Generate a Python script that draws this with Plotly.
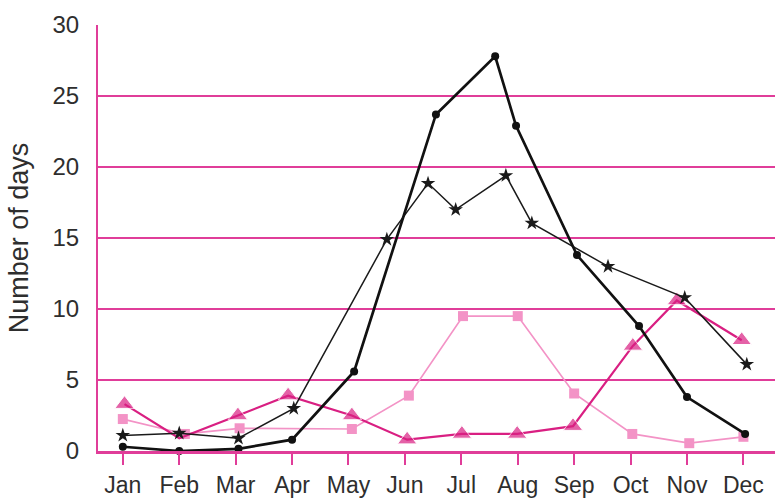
import plotly.graph_objects as go

months = ['Jan', 'Feb', 'Mar', 'Apr', 'May', 'Jun', 'Jul', 'Aug', 'Sep', 'Oct', 'Nov', 'Dec']
month_pos = list(range(1, 13))

# series (x = position in months, Jan = 1)
circ_x = [1.0, 2.0, 3.05, 4.0, 5.1, 6.55, 7.6, 7.97, 9.05, 10.15, 11.0, 12.03]
circ_y = [0.3, 0.0, 0.15, 0.8, 5.6, 23.7, 27.8, 22.9, 13.8, 8.8, 3.8, 1.2]

star_x = [1.0, 2.0, 3.05, 4.03, 5.68, 6.41, 6.9, 7.79, 8.25, 9.6, 10.96, 12.06]
star_y = [1.1, 1.25, 0.9, 3.0, 14.9, 18.85, 17.0, 19.4, 16.05, 13.0, 10.8, 6.1]

sq_x = [1.0, 2.1, 3.07, 5.06, 6.07, 7.03, 8.0, 9.0, 10.03, 11.04, 12.0]
sq_y = [2.25, 1.2, 1.6, 1.55, 3.9, 9.5, 9.5, 4.05, 1.2, 0.55, 1.0]

tri_x = [1.03, 2.0, 3.04, 3.93, 5.06, 6.04, 7.01, 7.99, 8.98, 10.04, 10.82, 11.97]
tri_y = [3.3, 0.9, 2.5, 3.9, 2.5, 0.8, 1.2, 1.2, 1.75, 7.4, 10.6, 7.8]

PINK = '#e03d99'
MAGENTA = '#d91f82'
LIGHT = '#f393c6'
TEXT = '#2e2e2e'

fig = go.Figure()
fig.add_trace(go.Scatter(
    x=sq_x, y=sq_y, mode='lines+markers',
    line=dict(color=LIGHT, width=1.7),
    marker=dict(symbol='square', size=10, color=LIGHT),
    cliponaxis=False,
))
fig.add_trace(go.Scatter(
    x=tri_x, y=tri_y, mode='lines+markers',
    line=dict(color=MAGENTA, width=2.2),
    marker=dict(symbol='triangle-up', size=[17, 0] + [17] * 10, color=MAGENTA),
    cliponaxis=False,
))
fig.add_trace(go.Scatter(
    x=star_x, y=star_y, mode='lines+markers',
    line=dict(color='#1a1a1a', width=1.5),
    marker=dict(symbol='star', size=11, color='#1a1a1a'),
    cliponaxis=False,
))
fig.add_trace(go.Scatter(
    x=circ_x, y=circ_y, mode='lines+markers',
    line=dict(color='#111111', width=2.7),
    marker=dict(symbol='circle', size=8, color='#111111'),
    cliponaxis=False,
))

fig.update_layout(
    width=775, height=498,
    margin=dict(l=98, r=0, t=25, b=45),
    paper_bgcolor='white', plot_bgcolor='white',
    showlegend=False,
    font=dict(family='Liberation Sans, Arial, sans-serif', color=TEXT),
    xaxis=dict(
        range=[0.56, 12.56],
        tickvals=month_pos, ticktext=months,
        showgrid=False, zeroline=False,
        showline=True, linecolor=PINK, linewidth=3,
        ticks='outside', ticklen=11, tickwidth=2, tickcolor=PINK,
        tickfont=dict(size=23, color=TEXT),
    ),
    yaxis=dict(
        range=[0, 30], dtick=5,
        showgrid=True, gridcolor=PINK, gridwidth=2,
        zeroline=False,
        showline=True, linecolor=PINK, linewidth=2,
        ticks='', ticklabelstandoff=12,
        tickfont=dict(size=24, color=TEXT),
        title=dict(text='Number of days', font=dict(size=27, color=TEXT), standoff=16),
    ),
)

fig.write_html('out.html', config={'displayModeBar': False},
               post_script="document.body.style.margin='0';")
